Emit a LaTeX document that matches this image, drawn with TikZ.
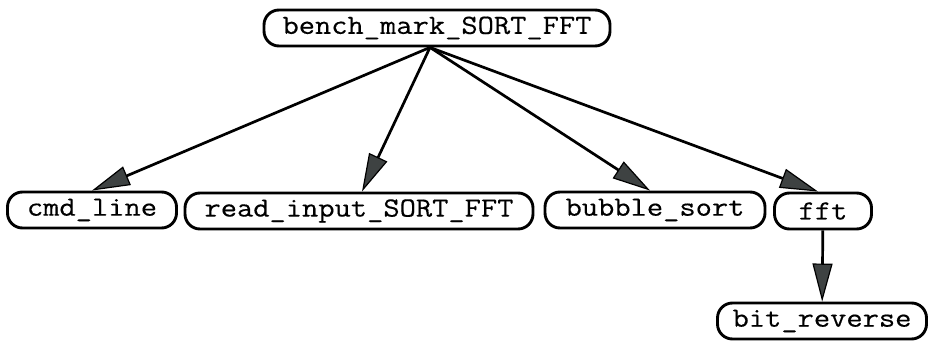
\documentclass[tikz,border=0pt]{standalone}
\usepackage{fontspec}
\setmonofont[FakeStretch=1.14,FakeBold=0.4]{Latin Modern Mono}
\usetikzlibrary{arrows.meta}
\definecolor{tipgray}{RGB}{62,66,66}
\begin{document}
\begin{tikzpicture}[x=1pt,y=-1pt,
  func/.style={draw=black, line width=2.9pt, rounded corners=15pt,
    minimum height=36pt, inner sep=0pt, font=\ttfamily\fontsize{27.7}{28}\selectfont},
  call/.style={line width=2.7pt, draw=black,
    -{Triangle[length=38pt,width=20pt,fill=tipgray,line width=1.2pt]}}]
  \useasboundingbox (0,0) rectangle (933,342);
  \node[func, minimum width=346pt] (top)  at (437,28)  {bench\_mark\_SORT\_FFT};
  \node[func, minimum width=169pt] (cmd)  at (92,210)  {cmd\_line};
  \node[func, minimum width=348pt] (read) at (359,211) {read\_input\_SORT\_FFT};
  \node[func, minimum width=220pt] (bub)  at (655,210) {bubble\_sort};
  \node[func, minimum width=97pt]  (fft)  at (823,211) {fft};
  \node[func, minimum width=209pt] (bit)  at (822,321) {bit\_reverse};
  \coordinate (hub) at ([xshift=-7pt]top.south);
  \draw[call] (hub) -- (cmd.north);
  \draw[call] (hub) -- ([xshift=3pt]read.north);
  \draw[call] (hub) -- ([xshift=-5pt]bub.north);
  \draw[call] (hub) -- ([xshift=-5pt]fft.north);
  \draw[call] (fft) -- (bit);
\end{tikzpicture}
\end{document}
